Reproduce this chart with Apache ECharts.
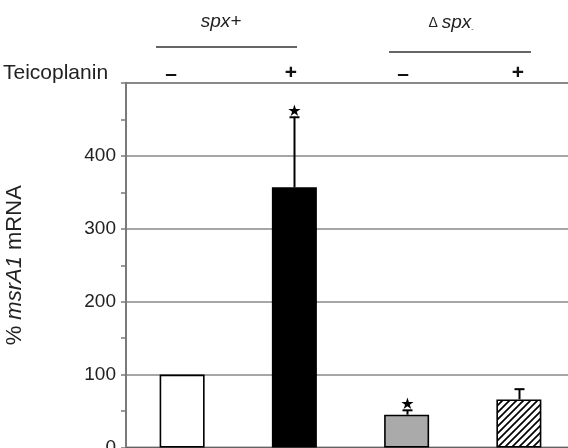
<!DOCTYPE html>
<html>
<head>
<meta charset="utf-8">
<script src="https://cdn.jsdelivr.net/npm/echarts@6/dist/echarts.min.js"></script>
<style>html,body{margin:0;padding:0;background:#fff}#c{width:568px;height:448px}</style>
</head>
<body>
<div id="c"></div>
<script>
// ---- data ----
const categories = ['spx+ −', 'spx+ +', 'Δspx − ', 'Δspx + '];
const values = [100, 357, 45, 66];
const errorHigh = [null, 453, 51, 80];
const significant = [false, true, true, false];
const yTickLabels = ['0', '100', '200', '300', '400'];
const treatmentSigns = ['–', '+', '–', '+'];

// hatch pattern
const pc = document.createElement('canvas');
pc.width = 7; pc.height = 7;
const g = pc.getContext('2d');
g.fillStyle = '#fff'; g.fillRect(0, 0, 7, 7);
g.strokeStyle = '#000'; g.lineWidth = 1.7;
g.beginPath();
g.moveTo(-1, 8); g.lineTo(8, -1);
g.moveTo(-1, 1); g.lineTo(1, -1);
g.moveTo(6, 8); g.lineTo(8, 6);
g.stroke();

const fills = ['#ffffff', '#000000', '#aaaaaa', { image: pc, repeat: 'repeat' }];
const FONT = '"Liberation Sans", Arial, sans-serif';

const chart = echarts.init(document.getElementById('c'), null, { renderer: 'canvas' });

const errData = [];
values.forEach((v, i) => { if (errorHigh[i] != null) errData.push([i, v, errorHigh[i], significant[i] ? 1 : 0]); });

const signX = [171, 291, 403, 518];

chart.setOption({
  animation: false,
  backgroundColor: '#fff',
  grid: { left: 126, top: 83, width: 449, height: 364.5, outerBoundsMode: 'none', containLabel: false,
    show: true, borderColor: '#8a8a8a', borderWidth: 2, backgroundColor: 'transparent' },
  xAxis: {
    type: 'category', data: categories,
    axisLine: { show: true, lineStyle: { color: '#555', width: 1.5 } },
    axisTick: { show: false }, axisLabel: { show: false }, splitLine: { show: false }
  },
  yAxis: {
    type: 'value', min: 0, max: 500, interval: 100,
    name: '{n|% }{i|msrA1}{n| mRNA}', nameLocation: 'middle', nameGap: 100, nameRotate: 90,
    nameTextStyle: { rich: { n: { fontFamily: FONT, fontSize: 22, color: '#222' }, i: { fontFamily: FONT, fontSize: 22, fontStyle: 'italic', color: '#222' } } },
    axisLine: { show: true, lineStyle: { color: '#7a7a7a', width: 2 } },
    axisTick: { show: true, length: 5, lineStyle: { color: '#7a7a7a', width: 1.5 } },
    minorTick: { show: true, splitNumber: 2, length: 5, lineStyle: { color: '#7a7a7a', width: 1.5 } },
    axisLabel: { fontFamily: FONT, fontSize: 19, color: '#222', margin: 10, showMinLabel: true, showMaxLabel: true,
      formatter: (v) => { const s = String(v); return yTickLabels.indexOf(s) >= 0 ? s : ''; } },
    splitLine: { show: true, lineStyle: { color: '#888', width: 1.5 } }
  },
  series: [
    {
      type: 'bar', barWidth: 45, z: 2,
      data: values.map((v, i) => ({ value: v, itemStyle: { color: fills[i], borderColor: '#000', borderWidth: 1.6 } }))
    },
    {
      type: 'custom', z: 3,
      data: errData,
      renderItem: function (params, api) {
        const lo = api.coord([api.value(0), api.value(1)]);
        const hi = api.coord([api.value(0), api.value(2)]);
        const x = Math.round(lo[0]) + 0.5;
        const children = [
          { type: 'line', shape: { x1: x, y1: lo[1], x2: x, y2: hi[1] }, style: { stroke: '#000', lineWidth: 2 } },
          { type: 'line', shape: { x1: x - 5, y1: hi[1], x2: x + 5, y2: hi[1] }, style: { stroke: '#000', lineWidth: 2 } }
        ];
        if (api.value(3) === 1) {
          children.push({ type: 'text', x: x, y: hi[1] - 5, style: { text: '★', font: '16px "DejaVu Sans"', fill: '#000', align: 'center', verticalAlign: 'middle' } });
        }
        return { type: 'group', children: children };
      }
    }
  ],
  graphic: [
    { type: 'text', x: 221, y: 22, style: { text: 'spx+', font: 'italic 19px ' + FONT, fill: '#222', align: 'center', verticalAlign: 'middle' } },
    { type: 'line', shape: { x1: 156, y1: 47, x2: 297, y2: 47 }, style: { stroke: '#333', lineWidth: 1.5 } },
    { type: 'text', x: 451, y: 23, style: { text: '{d|Δ }{s|spx}{t|-}', align: 'center', verticalAlign: 'middle',
        rich: { d: { fontFamily: FONT, fontSize: 14, fill: '#222' }, s: { fontFamily: FONT, fontSize: 19, fontStyle: 'italic', fill: '#222' }, t: { fontFamily: FONT, fontSize: 7, fill: '#444', verticalAlign: 'bottom' } } } },
    { type: 'line', shape: { x1: 389, y1: 52, x2: 531, y2: 52 }, style: { stroke: '#333', lineWidth: 1.5 } },
    { type: 'text', x: 3, y: 73, style: { text: 'Teicoplanin', font: '21px ' + FONT, fill: '#222', align: 'left', verticalAlign: 'middle' } }
  ].concat(treatmentSigns.map((s, i) => ({
    type: 'text', x: signX[i], y: s === '+' ? 73 : 74,
    style: { text: s, font: 'bold 21px ' + FONT, fill: '#111', align: 'center', verticalAlign: 'middle' }
  })))
});
</script>
</body>
</html>
